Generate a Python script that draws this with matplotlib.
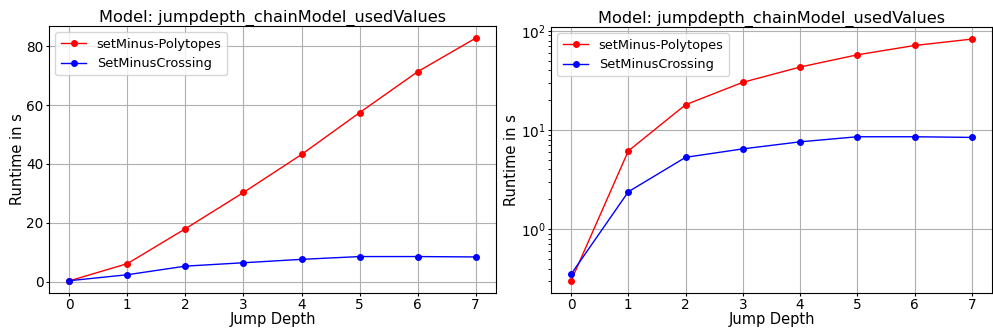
import matplotlib
matplotlib.use("Agg")
import matplotlib.pyplot as plt

depths = [0, 1, 2, 3, 4, 5, 6, 7]
polytopes = [0.30, 6.15, 18.0, 30.3, 43.2, 57.4, 71.3, 82.7]
crossing = [0.35, 2.38, 5.3, 6.45, 7.6, 8.55, 8.55, 8.42]

title = "Model: jumpdepth_chainModel_usedValues"

fig = plt.figure(figsize=(9.93, 3.31), dpi=100)
ax1 = fig.add_axes([49/993, 1 - 293/331, 447/993, 267/331])
ax2 = fig.add_axes([551/993, 1 - 293/331, 441/993, 266/331])

for ax in (ax1, ax2):
    ax.plot(depths, polytopes, 'r.-', markersize=8, linewidth=1, label='setMinus-Polytopes')
    ax.plot(depths, crossing, 'b.-', markersize=8, linewidth=1, label='SetMinusCrossing')
    ax.set_title(title, fontsize=11.6, pad=3)
    ax.set_xlabel('Jump Depth', fontsize=10.5, labelpad=0)
    ax.set_ylabel('Runtime in s', fontsize=10.5, labelpad=1)
    ax.tick_params(labelsize=9.8, length=2.2, pad=1.6)
    ax.grid(True)
    ax.legend(loc='upper left', fontsize=9.3)

ax2.set_yscale('log')

fig.savefig('out.png', dpi=100)
